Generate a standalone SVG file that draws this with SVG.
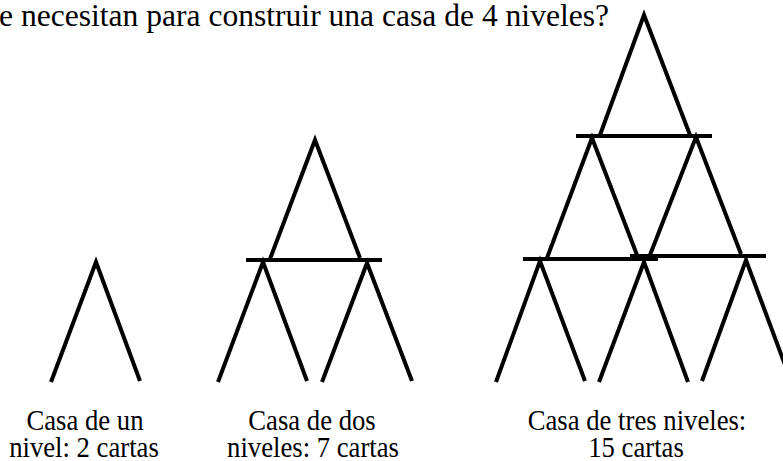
<svg xmlns="http://www.w3.org/2000/svg" width="783" height="461" viewBox="0 0 783 461">
<style>
.c{stroke:#000;stroke-width:4;fill:none;stroke-linecap:butt}
.t{font-family:"Liberation Serif","Times New Roman",serif;fill:#000}
.lbl{font-size:26.7px;text-anchor:middle}
</style>
<rect width="783" height="461" fill="#fff"/>
<text class="t" x="-1" y="26" font-size="30.5" textLength="610" lengthAdjust="spacingAndGlyphs">e necesitan para construir una casa de 4 niveles?</text>
<g id="casa1">
<path class="c" d="M51 382L96 262L140 381"/>
<text class="t lbl" transform="translate(85,430) scale(1,1.1)">Casa de un</text>
<text class="t lbl" transform="translate(84,457) scale(1,1.1)">nivel: 2 cartas</text>
</g>
<g id="casa2">
<path class="c" d="M270 259L315 140L360 258"/>
<path class="c" d="M246 260H382"/>
<path class="c" d="M218 382L263 262L307 381"/>
<path class="c" d="M322 382L367 263L412 381"/>
<text class="t lbl" transform="translate(312,430) scale(1,1.1)">Casa de dos</text>
<text class="t lbl" transform="translate(313,457) scale(1,1.1)">niveles: 7 cartas</text>
</g>
<g id="casa3">
<path class="c" d="M600 135L644 15L690 135"/>
<path class="c" d="M576 136H712"/>
<path class="c" d="M547 258L592 138L637 255"/>
<path class="c" d="M650 255L696 137L741 254"/>
<path class="c" d="M523 259H658"/>
<path class="c" d="M630 256H766"/>
<path class="c" d="M496 382L540 261L585 381"/>
<path class="c" d="M599 382L644 262L688 382"/>
<path class="c" d="M702 381L746 260L791 381"/>
<text class="t lbl" transform="translate(637,430) scale(1,1.1)">Casa de tres niveles:</text>
<text class="t lbl" transform="translate(636,457) scale(1,1.1)">15 cartas</text>
</g>
</svg>
